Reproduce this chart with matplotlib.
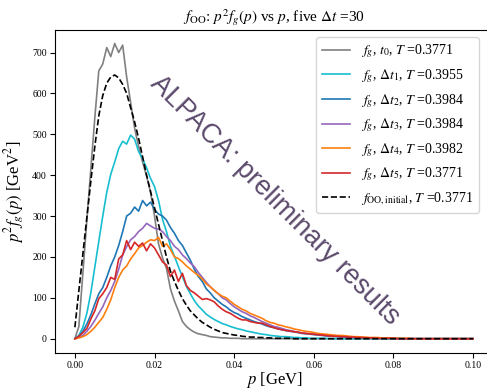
import numpy as np
import matplotlib
matplotlib.use('Agg')
import matplotlib.pyplot as plt

plt.rcParams['font.family'] = ['Liberation Serif', 'DejaVu Serif']
plt.rcParams['mathtext.fontset'] = 'stix'

# momentum grid [GeV], 0.001 steps
p = np.round(np.arange(0, 101) * 0.001, 3)

gray_t0 = [0, 30, 160, 290, 415, 540, 655, 672, 712, 690,
           722, 700, 718, 640, 578, 515, 470, 432, 398, 358,
           300, 232, 198, 172, 122, 92, 68, 42, 30, 22,
           16, 12, 10, 8, 5, 4, 3, 2, 2, 1,
           1, 1] + [0] * 59

cyan_dt1 = [0, 8, 28, 62, 112, 175, 238, 300, 358, 402,
            432, 465, 483, 476, 498, 488, 458, 440, 418, 392,
            372, 338, 292, 262, 226, 202, 176, 152, 128, 110,
            93, 80, 70, 60, 53, 47, 42, 37, 34, 30,
            27, 24, 22, 19, 17, 15, 13, 11, 10, 8,
            7, 6, 5, 5, 4, 3, 3, 2, 2, 1,
            1, 1, 1, 1] + [0] * 37

blue_dt2 = [0, 6, 18, 36, 58, 85, 110, 125, 150, 178,
            200, 228, 262, 300, 307, 322, 312, 338, 325, 334,
            316, 305, 300, 290, 272, 258, 240, 228, 210, 192,
            170, 152, 140, 122, 112, 100, 92, 84, 78, 70,
            64, 60, 54, 50, 46, 42, 39, 36, 32, 29,
            27, 24, 22, 20, 18, 17, 15, 13, 12, 11,
            10, 9, 8, 7, 6, 6, 5, 4, 4, 3,
            3, 3, 2, 2, 2, 1, 1, 1, 1, 1,
            1, 1] + [0] * 19

purple_dt3 = [0, 3, 8, 18, 30, 45, 62, 78, 100, 118,
              140, 170, 205, 225, 242, 250, 262, 270, 282, 276,
              270, 268, 262, 250, 240, 226, 218, 205, 196, 185,
              176, 162, 150, 138, 127, 118, 110, 100, 95, 86,
              78, 72, 66, 62, 56, 52, 47, 42, 38, 34,
              30, 28, 25, 22, 20, 18, 16, 14, 13, 12,
              11, 10, 9, 8, 7, 6, 6, 5, 4, 4,
              3, 3, 3, 2, 2, 2, 1, 1, 1, 1,
              1] + [0] * 20

orange_dt4 = [0, 2, 5, 10, 18, 28, 40, 52, 72, 95,
              125, 150, 168, 178, 195, 208, 222, 228, 236, 242,
              240, 248, 226, 232, 218, 200, 196, 188, 178, 170,
              162, 155, 146, 134, 127, 118, 110, 104, 100, 92,
              84, 78, 72, 68, 62, 58, 54, 50, 44, 40,
              38, 34, 32, 29, 27, 24, 22, 20, 18, 17,
              15, 13, 12, 11, 10, 9, 8, 8, 7, 6,
              5, 5, 4, 4, 3, 3, 3, 2, 2, 2,
              1, 1, 1, 1, 1] + [0] * 16

red_dt5 = [0, 6, 15, 25, 48, 68, 98, 110, 125, 150,
           145, 195, 205, 240, 218, 236, 226, 234, 215, 232,
           222, 205, 188, 180, 152, 168, 140, 160, 130, 118,
           112, 104, 96, 98, 95, 90, 80, 72, 66, 62,
           56, 50, 46, 46, 42, 40, 38, 38, 34, 30,
           27, 24, 22, 20, 19, 17, 16, 14, 13, 12,
           11, 10, 9, 8, 7, 6, 6, 5, 5, 4,
           4, 3, 3, 2, 2, 2, 1, 1, 1, 1,
           1] + [0] * 20

f_initial = [28, 118, 207, 296, 385, 470, 545, 595, 625, 640,
             645, 638, 622, 600, 565, 530, 490, 445, 400, 360,
             320, 280, 240, 200, 165, 140, 118, 98, 82, 68,
             58, 48, 40, 34, 28, 23, 19, 15, 13, 11,
             9, 8, 6, 5, 4, 4, 3, 3, 2, 2,
             1, 1, 1, 1, 1] + [0] * 46

curves = [
    (gray_t0, 'gray', r'$f_g$, $t_0$, $T$ =0.3771'),
    (cyan_dt1, 'tab:cyan', r'$f_g$, $\Delta t_1$, $T$ =0.3955'),
    (blue_dt2, 'tab:blue', r'$f_g$, $\Delta t_2$, $T$ =0.3984'),
    (purple_dt3, 'tab:purple', r'$f_g$, $\Delta t_3$, $T$ =0.3984'),
    (orange_dt4, 'tab:orange', r'$f_g$, $\Delta t_4$, $T$ =0.3982'),
    (red_dt5, 'tab:red', r'$f_g$, $\Delta t_5$, $T$ =0.3771'),
]

fig = plt.figure(figsize=(4.87, 3.89), dpi=100)
ax = fig.add_axes([0.1129, 0.0925, 0.8994, 0.8303])

for vals, col, lab in curves:
    ax.plot(p, vals, color=col, lw=1.2, label=lab)
ax.plot(p, f_initial, color='black', ls='--', lw=1.2,
        label=r'$f_{\rm OO,initial}$, $T$ =0.3771')

ax.set_xlim(-0.005, 0.105)
ax.set_ylim(-35, 755)
ax.set_xticks([0.0, 0.02, 0.04, 0.06, 0.08, 0.10])
ax.set_yticks([0, 100, 200, 300, 400, 500, 600, 700])
ax.tick_params(labelsize=7, length=3.5, pad=2.5)
ax.set_xlabel(r'$p$ [GeV]', fontsize=12, labelpad=0)
ax.set_ylabel(r'$p^2 f_g(p)$ [GeV$^2$]', fontsize=12, labelpad=4)
ax.set_title(r'$f_{\rm OO}$: $p^2 f_g(p)$ vs $p$, five $\Delta t$ =30', fontsize=11, pad=6)
ax.spines['right'].set_visible(False)

ax.legend(loc='upper right', bbox_to_anchor=(0.983, 1.0), fontsize=10,
          framealpha=0.8, handlelength=2.0, borderaxespad=0.5)

# watermark
ax.text(0.502, 0.474, 'ALPACA: preliminary results', transform=ax.transAxes,
        rotation=-45, ha='center', va='center', fontsize=19.5,
        color='#5b4a6b', family=['Liberation Sans', 'DejaVu Sans'], zorder=0)

fig.savefig('out.png', dpi=100)
